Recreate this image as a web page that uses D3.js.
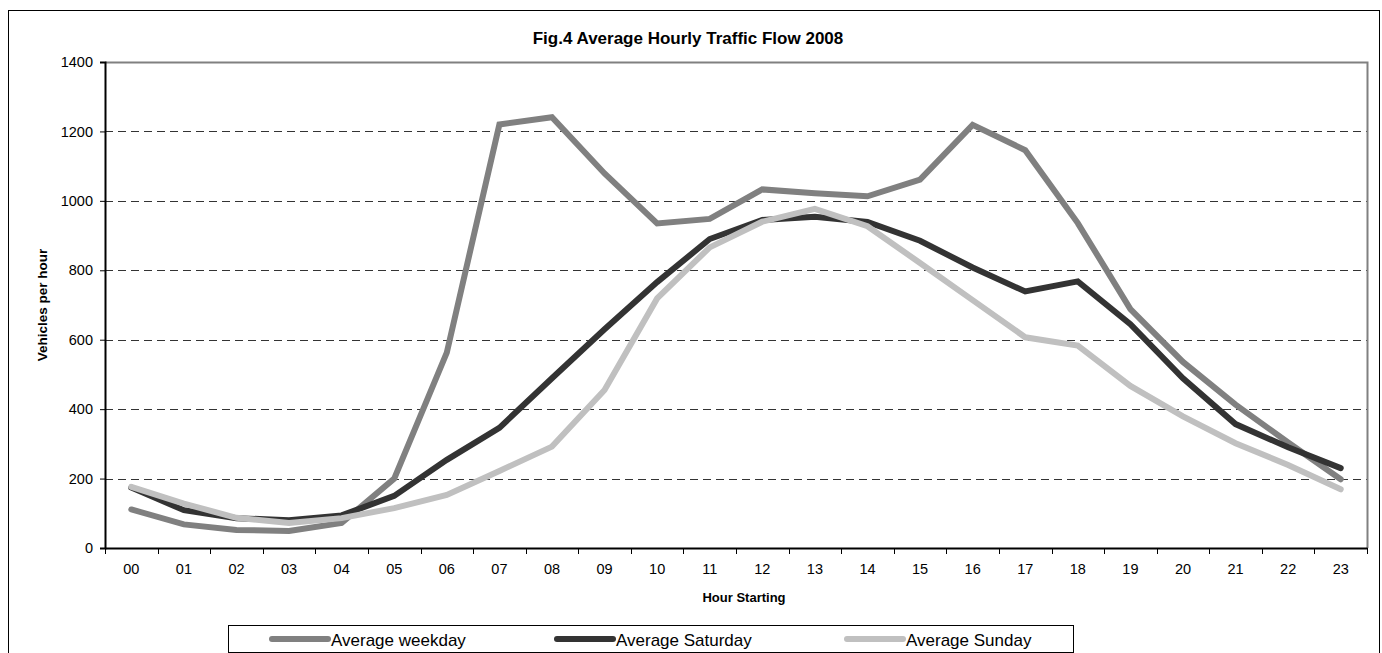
<!DOCTYPE html>
<html>
<head>
<meta charset="utf-8">
<script src="https://cdn.jsdelivr.net/npm/d3@7"></script>
<style>
  body { margin: 0; background: #fff; }
  svg { display: block; font-family: "Liberation Sans", Arial, sans-serif; }
</style>
</head>
<body>
<svg id="chart" width="1382" height="653"></svg>
<script>
// hours along the x axis
const hours = ["00","01","02","03","04","05","06","07","08","09","10","11",
  "12","13","14","15","16","17","18","19","20","21","22","23"];

// vehicles per hour
const weekday = [111, 68, 52, 49, 72, 200, 563, 1220, 1241, 1079, 935, 948,
  1033, 1022, 1013, 1061, 1219, 1146, 936, 688, 536, 413, 304, 198];
const saturday = [174, 109, 86, 80, 94, 150, 254, 346, 489, 630, 766, 890,
  945, 954, 939, 885, 808, 739, 768, 645, 489, 357, 290, 230];
const sunday = [176, 128, 87, 72, 86, 115, 153, 222, 292, 455, 719, 866,
  940, 977, 927, 821, 714, 607, 583, 467, 379, 302, 239, 169];

const yTicks = [0, 200, 400, 600, 800, 1000, 1200, 1400];

const seriesNames = ["Average weekday", "Average Saturday", "Average Sunday"];
const seriesColors = ["#808080", "#333333", "#c0c0c0"];

const svg = d3.select("#chart");
const margin = {left: 105, right: 15, top: 62, bottom: 105};
const W = 1382, H = 653;
const pw = W - margin.left - margin.right;
const ph = H - margin.top - margin.bottom;

// outer chart border
svg.append("rect")
  .attr("x", 8.5).attr("y", 10.5)
  .attr("width", 1371).attr("height", 660)
  .attr("fill", "none").attr("stroke", "#000").attr("stroke-width", 1);

svg.append("text")
  .attr("x", 688).attr("y", 44)
  .attr("text-anchor", "middle")
  .attr("font-weight", "bold").attr("font-size", 17)
  .text("Fig.4 Average Hourly Traffic Flow 2008");

const x = d3.scaleBand().domain(hours).range([0, pw]).padding(0);
const y = d3.scaleLinear().domain([0, 1400]).range([ph, 0]);
const cx = d => x(d) + x.bandwidth() / 2;

const g = svg.append("g").attr("transform", `translate(${margin.left},${margin.top})`);

// dashed gridlines
g.append("g").selectAll("line")
  .data(yTicks.filter(d => d > 0 && d < 1400))
  .join("line")
  .attr("x1", 0).attr("x2", pw)
  .attr("y1", d => Math.round(y(d)) + 0.5).attr("y2", d => Math.round(y(d)) + 0.5)
  .attr("stroke", "#333").attr("stroke-dasharray", "8,5");

// grey plot frame (top and right)
g.append("path")
  .attr("d", `M0,${y(1400) + 0.5}H${pw + 0.5}V${ph}`)
  .attr("fill", "none").attr("stroke", "#808080").attr("stroke-width", 2);

// y axis
const yAxis = g.append("g")
  .call(d3.axisLeft(y).tickValues(yTicks).tickFormat(d3.format("d")).tickSize(5).tickPadding(7));
yAxis.select(".domain").attr("stroke", "#000").attr("stroke-width", 2);
yAxis.selectAll("text").attr("font-size", 14.5).attr("fill", "#000");

// x axis: labels centred on bands, tick marks at band edges
const xAxis = g.append("g").attr("transform", `translate(0,${ph})`)
  .call(d3.axisBottom(x).tickSize(0).tickPadding(16));
xAxis.select(".domain").attr("stroke", "#000").attr("stroke-width", 2);
xAxis.selectAll("text").attr("font-size", 14.5).attr("fill", "#000");
g.append("g").attr("transform", `translate(0,${ph})`)
  .selectAll("line")
  .data(hours.map(h => x(h)).concat([pw]))
  .join("line")
  .attr("x1", d => Math.round(d) + 0.5).attr("x2", d => Math.round(d) + 0.5)
  .attr("y1", 0).attr("y2", 6)
  .attr("stroke", "#000");

svg.append("text")
  .attr("x", margin.left + pw / 2 + 8).attr("y", 602)
  .attr("text-anchor", "middle")
  .attr("font-weight", "bold").attr("font-size", 13)
  .text("Hour Starting");

svg.append("text")
  .attr("transform", `translate(47,${margin.top + ph / 2}) rotate(-90)`)
  .attr("text-anchor", "middle")
  .attr("font-weight", "bold").attr("font-size", 13.5)
  .text("Vehicles per hour");

const line = d3.line()
  .x((d, i) => cx(hours[i]))
  .y(d => y(d));

const allSeries = [weekday, saturday, sunday];
// draw back to front so Sunday sits over Saturday as in the original
allSeries.forEach((s, i) => {
  g.append("path")
    .datum(s)
    .attr("d", line)
    .attr("fill", "none")
    .attr("stroke", seriesColors[i])
    .attr("stroke-width", 6)
    .attr("stroke-linecap", "round")
    .attr("stroke-linejoin", "miter");
});

// legend
const lg = svg.append("g");
lg.append("rect")
  .attr("x", 228.5).attr("y", 625.5)
  .attr("width", 845).attr("height", 27)
  .attr("fill", "#fff").attr("stroke", "#000");

const legendX = [272, 557, 847];
seriesNames.forEach((name, i) => {
  lg.append("line")
    .attr("x1", legendX[i]).attr("x2", legendX[i] + 56)
    .attr("y1", 639).attr("y2", 639)
    .attr("stroke", seriesColors[i]).attr("stroke-width", 6)
    .attr("stroke-linecap", "round");
  lg.append("text")
    .attr("x", legendX[i] + 59).attr("y", 645.5)
    .attr("font-size", 17)
    .text(name);
});
</script>
</body>
</html>
